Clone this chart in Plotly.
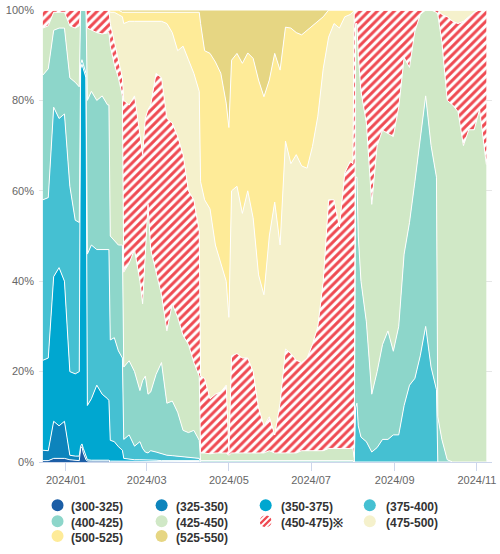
import base64
import plotly.graph_objects as go

dates = [
    "2023-12-15", "2023-12-19", "2023-12-23", "2023-12-27", "2023-12-31",
    "2024-01-04", "2024-01-08", "2024-01-11", "2024-01-12", "2024-01-13",
    "2024-01-14", "2024-01-15", "2024-01-16", "2024-01-17", "2024-01-20",
    "2024-01-24", "2024-01-28", "2024-02-01", "2024-02-02", "2024-02-03",
    "2024-02-06", "2024-02-09", "2024-02-12", "2024-02-13", "2024-02-17",
    "2024-02-21", "2024-02-25", "2024-02-27", "2024-02-29", "2024-03-02",
    "2024-03-04", "2024-03-08", "2024-03-12", "2024-03-16", "2024-03-20",
    "2024-03-24", "2024-03-28", "2024-04-01", "2024-04-05", "2024-04-09",
    "2024-04-10", "2024-04-13", "2024-04-17", "2024-04-21", "2024-04-25",
    "2024-04-29", "2024-05-01", "2024-05-03", "2024-05-07", "2024-05-11",
    "2024-05-15", "2024-05-19", "2024-05-23", "2024-05-27", "2024-05-31",
    "2024-06-04", "2024-06-08", "2024-06-12", "2024-06-16", "2024-06-20",
    "2024-06-24", "2024-06-28", "2024-07-02", "2024-07-06", "2024-07-10",
    "2024-07-14", "2024-07-18", "2024-07-22", "2024-07-26", "2024-07-30",
    "2024-08-01", "2024-08-02", "2024-08-03", "2024-08-04", "2024-08-05",
    "2024-08-07", "2024-08-11", "2024-08-15", "2024-08-19", "2024-08-23",
    "2024-08-27", "2024-08-31", "2024-09-04", "2024-09-08", "2024-09-12",
    "2024-09-16", "2024-09-20", "2024-09-24", "2024-09-28", "2024-10-02",
    "2024-10-03", "2024-10-06", "2024-10-10", "2024-10-14", "2024-10-18",
    "2024-10-22", "2024-10-26", "2024-10-30", "2024-11-03", "2024-11-08",
]

labels = ["(300-325)", "(325-350)", "(350-375)", "(375-400)", "(400-425)",
          "(425-450)", "(450-475)※", "(475-500)", "(500-525)", "(525-550)"]

s_300_325 = [0.3, 0.3, 0.8, 0.8, 0.8, 0.5, 0.3, 0.3,
             3, 3.4, 2, 1, 0.5,
             0.2, 0.2, 0.2, 0.2, 0.2, 0.2] + [0] * 81

s_325_350 = [2.3, 2.2, 8.2, 7.2, 8.2, 1, 1, 1,
             0.5, 0.6, 1, 1, 0.5,
             0.3, 0.2, 0.2, 0.2, 0.2, 0.2,
             0.2, 0.2, 0.2, 0.2] + [0.1] * 17 + [0] * 60

s_350_375 = [19.9, 20.5, 32, 35, 31, 18.5, 18.2, 18.7,
             83.5, 84, 84, 84, 84,
             12, 13.6, 16.6, 14.6, 13.6, 13.2,
             4.6, 4.3, 3.2, 2.4,
             0.7, 0.5, 0.4, 0.4, 0.4,
             0.3, 0.3, 0.3, 0.3,
             0.2, 0.2, 0.2, 0.2, 0.2, 0.2, 0.2, 0.2] + [0] * 60

s_375_400 = [35.5, 35.5, 37.5, 33, 37, 41, 34, 33,
             1, 1, 1, 1, 1,
             33.5, 34, 30, 32, 33, 33.4,
             22.2, 23, 21.2, 20.4,
             4.2, 5.4, 3, 4, 2.5, 1.8, 1.6, 2.1, 1.8, 1.5, 1.2, 1.1, 1, 0.9, 0.7, 0.6, 0.5] + [0] * 32 + [
             12, 13, 8, 5.5, 4.5, 2.2, 3.2, 5, 5, 6, 6, 12.5, 17, 18.5, 23.5, 30, 21, 16] + [0] * 10

s_400_425 = [27.6, 28.5, 17, 20, 19, 24, 30.5, 30,
             12, 11, 12, 13, 14,
             34, 34, 33, 34, 32, 32,
             23, 21.5, 23.4, 25,
             16, 16.4, 16.5, 11.3, 15, 16.8, 13, 13, 17.2, 20.2, 11.5, 12.1, 9.7, 5.8, 5.5, 6.1, 4] + [0.3] * 31 + [
             0,
             51, 50, 42, 34.5, 26.5, 12.8, 16.8, 21, 24, 18.5, 24, 33.5, 36, 43.5, 48.5, 51, 49, 47,
             10, 5, 0.5] + [0] * 7

s_425_450 = [10.4, 9.5, 4, 3.5, 3.5, 11.5, 12, 13.5,
             0, 0, 0, 0, 0,
             16, 13.5, 15, 13.7, 16, 16,
             42, 39, 37, 33,
             21, 21.6, 27, 24.2, 17, 26, 42, 31.5, 22.6, 15, 16, 21.5, 21, 21, 19.5, 15, 14.2,
             1.7, 1.7, 1.5, 1.7, 1.7, 1.7, 1.2, 1.7, 1.7, 1.7, 1.7, 1.7, 1.7, 1.7,
             2.2, 1.7, 1.7, 1.7, 1.7, 1.7, 2.2, 2.2, 2.2, 2.2, 2.2,
             2.7, 2.7, 2.7, 2.7, 2.7, 2.7,
             1,
             34, 34, 40, 42, 44, 42, 50, 47.4, 43.7, 47.5, 48.5, 43.5, 34.3, 33.3, 27, 19, 30, 36.5,
             89, 88, 79.5, 79, 77.5, 70, 73.5, 73.5, 78, 65.8]

s_450_475 = [4, 3.5, 0.5, 0.5, 0.5, 3.5, 4, 3.5,
             0, 0, 0, 0, 0,
             4, 4.5, 5, 5.3, 5, 5,
             5, 5, 4, 4,
             38, 35, 34, 32, 33, 31, 21, 32, 44, 48, 47, 40, 40, 40, 34, 36, 32,
             17, 16.5, 12.2, 13, 13.5, 15, 1,
             21.5, 22, 21, 21, 18, 10, 6,
             7.5, 4, 11, 23, 22, 20.5,
             19.5, 20.5, 23.5, 27.5, 37.5,
             55, 55, 49, 61, 63.5, 63,
             99,
             3, 3, 10, 18, 25, 43, 30, 26.6, 27.3, 28, 21.5, 10.5, 12.7, 4.7, 1, 0, 0, 0.5,
             1, 6, 18.5, 18.5, 19.5, 27.5, 25, 26, 22, 34.2]

s_475_500 = [0] * 19 + [
             2.5, 6.5, 10, 13.5,
             17, 18.5, 16.5, 25.5, 29.5, 21.5, 19.5, 18.5, 11.5, 12.5, 21, 20, 19, 24, 29, 28, 31,
             43, 39.5, 42, 33, 28.5, 23, 29.5,
             36.5, 37, 32, 37, 34, 29.4, 29,
             40, 51.5, 35, 46, 42, 45.5,
             43.5, 42, 43.8, 46.5, 47,
             36, 39, 44, 34.5, 32.5, 33.5] + [0] * 20 + [
             1, 1.5, 2.5, 3, 2.5, 1.5, 0.5, 0, 0]

s_500_525 = [0] * 19 + [
             0.5, 0.5, 1, 1,
             2.5, 2, 2, 2, 2, 2, 2, 2, 2, 2, 2.5, 4.5, 8.5, 7.5, 10.5, 13.5, 17.5,
             35, 33, 34.4, 40.5, 42, 39.4, 42,
             28.9, 29.4, 33.2, 30.5, 35.3, 43.1, 43.8,
             34.5, 32.9, 38.7, 25.2, 30, 27,
             29, 30.5, 26.7, 21, 11.5,
             6, 3, 4, 1.5, 1, 0.5] + [0] * 29

s_525_550 = [0] * 22 + [0.5] + [0.5] * 17 + [
             3, 9, 9.6, 11.5, 14, 20.6, 26,
             11.1, 9.6, 11.8, 9.5, 10.7, 15.5, 19.2,
             15.5, 9.6, 13.3, 3.8, 4, 5,
             5.5, 4.5, 3.5, 2.5, 1.5,
             0, 0, 0, 0, 0, 0] + [0] * 29

series = [s_300_325, s_325_350, s_350_375, s_375_400, s_400_425,
          s_425_450, s_450_475, s_475_500, s_500_525, s_525_550]

colors = ["#1c5ea6", "#0d84bc", "#00a7d0", "#45c0d2", "#8dd6ca",
          "#d0e8c6", "#ef4a52", "#f5f1cc", "#feeb98", "#e6d683"]

tick_vals = ["2024-01-01", "2024-03-01", "2024-05-01", "2024-07-01", "2024-09-01", "2024-11-01"]
tick_text = ["2024/01", "2024/03", "2024/05", "2024/07", "2024/09", "2024/11"]

# layout geometry (pixels)
W, H = 500, 554
ML, MR, MT, MB = 39, 4, 6, 92
PW, PH = W - ML - MR, H - MT - MB

fig = go.Figure()

for i, (name, vals, col) in enumerate(zip(labels, series, colors)):
    kw = dict(
        x=dates, y=vals, name=name, mode="lines", stackgroup="one", groupnorm="percent",
        line=dict(color="white", width=1), showlegend=False, hoverinfo="skip",
        fillcolor=col,
    )
    if i == 6:
        kw["fillpattern"] = dict(shape="/", fgcolor=col, bgcolor="white", size=6,
                                 solidity=0.5, fgopacity=1)
    fig.add_trace(go.Scatter(**kw))

# legend entries (text only; the round symbols are drawn as legend glyphs below)
legend_of = ["legend"] * 4 + ["legend2"] * 4 + ["legend3"] * 2
for i, name in enumerate(labels):
    fig.add_trace(go.Scatter(
        x=[None], y=[None], mode="markers", name=name, legend=legend_of[i],
        marker=dict(size=12, color="rgba(0,0,0,0)"),
        showlegend=True, hoverinfo="skip",
    ))

leg_font = dict(family="Liberation Sans, Arial, sans-serif", size=12, color="#333333", weight="bold")
def leg(y):
    return dict(orientation="h", xref="container", yref="container", x=0.062, y=y,
                xanchor="left", yanchor="top", entrywidth=60, entrywidthmode="pixels",
                traceorder="normal", font=leg_font, bgcolor="rgba(0,0,0,0)",
                itemclick=False, itemdoubleclick=False)

# legend glyph centres (pixels)
col_x = [57.7, 162.7, 267.7, 372.7]
row_y = [505.7, 521.7, 536.7]
shapes = []
images = []
for i, col in enumerate(colors):
    cx = col_x[i % 4]
    cy = row_y[i // 4]
    px = (cx - ML) / PW
    py = (H - MB - cy) / PH
    if i == 6:
        svg = ('<svg xmlns="http://www.w3.org/2000/svg" width="24" height="24" viewBox="0 0 12 12">'
               '<defs><clipPath id="c"><circle cx="6" cy="6" r="6"/></clipPath></defs>'
               '<g clip-path="url(#c)"><rect width="12" height="12" fill="white"/>'
               '<path d="M-3,6 L6,-3 M-3,12 L12,-3 M0,15 L15,0 M6,15 L15,6" '
               'stroke="' + col + '" stroke-width="2.3"/></g></svg>')
        src = "data:image/svg+xml;base64," + base64.b64encode(svg.encode()).decode()
        images.append(dict(source=src, xref="paper", yref="paper",
                           x=px - 6 / PW, y=py + 6 / PH, sizex=12 / PW, sizey=12 / PH,
                           xanchor="left", yanchor="top", sizing="stretch", layer="above"))
    else:
        shapes.append(dict(type="circle", xref="paper", yref="paper",
                           xsizemode="pixel", ysizemode="pixel", xanchor=px, yanchor=py,
                           x0=-6, x1=6, y0=-6, y1=6, fillcolor=col,
                           line=dict(width=0), layer="above"))

fig.update_layout(
    width=W, height=H, autosize=False,
    margin=dict(l=ML, r=MR, t=MT, b=MB),
    paper_bgcolor="white", plot_bgcolor="white",
    font=dict(family="Liberation Sans, Arial, sans-serif", size=11, color="#666666"),
    xaxis=dict(
        type="date", range=["2023-12-12 03:00", "2024-11-12 05:00"],
        tickvals=tick_vals, ticktext=tick_text, showgrid=False,
        showline=True, linecolor="#ccd6eb", linewidth=1,
        ticks="outside", ticklen=8, tickcolor="#ccd6eb", tickwidth=1,
        tickfont=dict(size=11, color="#666666"), zeroline=False, ticklabeloverflow="allow",
    ),
    yaxis=dict(
        range=[0, 100], tickvals=[0, 20, 40, 60, 80, 100],
        ticktext=["0%", "20%", "40%", "60%", "80%", "100%"],
        showgrid=True, gridcolor="#e6e6e6", gridwidth=1, zeroline=False,
        showline=False, tickfont=dict(size=11, color="#666666"), ticklabelstandoff=4,
        ticklabeloverflow="allow",
    ),
    legend=leg(1 - 492 / 554), legend2=leg(1 - 507.5 / 554), legend3=leg(1 - 522.5 / 554),
    shapes=shapes, images=images,
)

fig.write_html("out.html", config={"displayModeBar": False},
               post_script="document.body.style.margin='0px';")
